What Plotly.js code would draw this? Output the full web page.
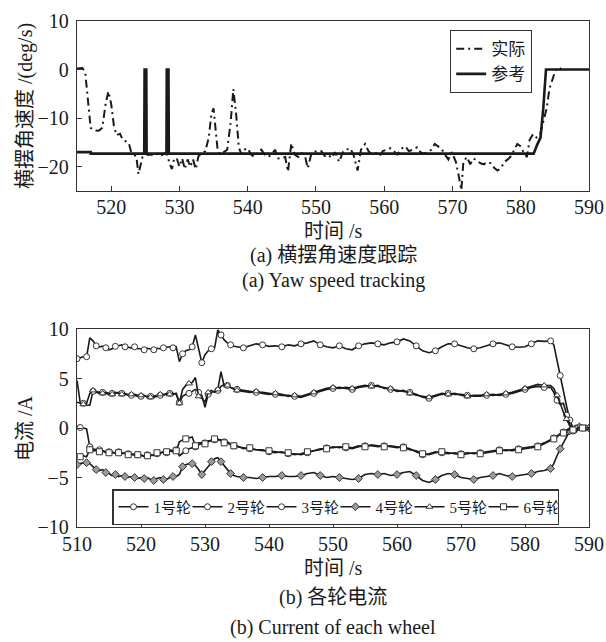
<!DOCTYPE html>
<html>
<head>
<meta charset="utf-8">
<script src="https://cdn.plot.ly/plotly-3.0.1.min.js"></script>
<style>html,body{margin:0;padding:0;background:#fff;}#chart{width:606px;height:642px;}</style>
</head>
<body>
<div id="chart"></div>
<script>
// ---------- (a) yaw speed tracking ----------
const refT = [515, 517, 517.01, 524.85, 524.9, 525.15, 525.2, 528.1, 528.15, 528.4, 528.45, 581.9, 582.4, 582.9, 583.3, 583.7, 590];
const refV = [-17, -17, -17.3, -17.3, 0, 0, -17.3, -17.3, 0, 0, -17.3, -17.3, -15.5, -14, -8, 0, 0];

const actT = [515.0, 515.8, 516.2, 516.6, 517.0, 517.5, 518.2, 518.7, 519.2, 519.6,
  520.0, 520.4, 520.8, 521.3, 521.7, 522.2, 522.6, 522.9, 523.3, 523.7,
  524.0, 524.3, 524.6, 525.0, 525.4, 525.8, 526.3, 526.8, 527.3, 527.8,
  528.2, 528.6, 528.9, 529.2, 529.6, 530.0, 530.4, 530.8, 531.2, 531.6,
  532.0, 532.4, 532.8, 533.3, 533.8, 534.3, 534.7, 535.0, 535.3, 535.6,
  536.0, 536.5, 537.0, 537.5, 537.9, 538.3, 538.7, 539.1, 539.5, 540.0,
  540.5, 541.0, 541.5, 542.0, 542.5, 543.0, 543.5, 544.0, 544.5, 545.0,
  545.5, 545.9, 546.4, 546.9, 547.4, 547.9, 548.4, 548.8, 549.3, 549.8,
  550.3, 550.8, 551.3, 551.8, 552.3, 552.8, 553.4, 554.0, 554.5, 555.0,
  555.5, 556.1, 556.6, 557.2, 557.7, 558.2, 558.8, 559.3, 559.8, 560.4,
  560.9, 561.4, 561.9, 562.5, 563.1, 563.6, 564.2, 564.8, 565.3, 565.8,
  566.4, 566.9, 567.4, 567.9, 568.4, 568.9, 569.4, 569.9, 570.5, 571.0,
  571.3, 571.6, 572.1, 572.6, 573.1, 573.6, 574.1, 574.6, 575.1, 575.6,
  576.1, 576.6, 577.1, 577.6, 578.1, 578.6, 579.1, 579.5, 580.0, 580.5,
  580.9, 581.3, 581.8, 582.3, 582.8, 583.3, 583.8, 584.2, 584.6, 585.0,
  585.5, 586.0];
const actV = [0.2, 0.3, -0.5, -6, -12, -12.5, -12.6, -12, -7, -4.5,
  -7, -11.5, -13.5, -13.2, -14.5, -14.8, -15.2, -16.8, -17.3, -18,
  -21.5, -20, -18, -17.3, -17.6, -17.5, -17.7, -17.3, -17.8, -17.2,
  -17.5, -19.5, -20.5, -18.5, -18.2, -20, -18.3, -20.5, -18.5, -20,
  -18.5, -20.5, -17.8, -17.2, -16.8, -14, -9, -8, -12, -16.5,
  -17.5, -17, -16.5, -11, -4, -9, -16, -17.5, -16.5, -16.2,
  -17.5, -18, -17, -16.5, -17.5, -18, -17.5, -16.5, -18.3, -18.2,
  -18, -21, -15.2, -17.5, -18, -17.2, -17.8, -20.3, -17.5, -16.8,
  -17, -16.8, -17.8, -17.5, -18.2, -17, -19, -16.8, -16.5, -16.2,
  -17.5, -20.8, -16.5, -15.3, -16.8, -17.5, -17.2, -17.8, -16.8, -16.5,
  -16.2, -16.8, -17.5, -16.3, -15.8, -16.8, -16.5, -16, -17, -17.3,
  -17, -16.5, -15.3, -15.8, -16.3, -17.5, -18.5, -17, -19, -22.5,
  -24.8, -19, -18, -19.5, -18.3, -18.8, -19.3, -19.5, -19, -19.3,
  -20.2, -20.8, -20.3, -19, -18.5, -17.8, -16.5, -15.3, -15.8, -17.3,
  -18, -14.5, -13.3, -14, -13.5, -11, -8, -4, -2, -0.5,
  0.5, 0];

const topXTicks = [520, 530, 540, 550, 560, 570, 580, 590];
const topYTicks = [-20, -10, 0, 10];

// ---------- (b) current of each wheel ----------
const wheelT = [510, 510.5, 511, 511.5, 512, 512.5, 513, 513.5, 514, 514.5,
  515, 515.5, 516, 516.5, 517, 517.5, 518, 518.5, 519, 519.5,
  520, 520.5, 521, 521.5, 522, 522.5, 523, 523.5, 524, 524.5,
  525, 525.5, 526, 526.5, 527, 527.5, 528, 528.5, 529, 529.5,
  530, 530.5, 531, 531.5, 532, 532.5, 533, 533.5, 534, 534.5,
  535,
  536, 537, 538, 539, 540, 541, 542, 543, 544, 545,
  546, 547, 548, 549, 550, 551, 552, 553, 554, 555,
  556, 557, 558, 559, 560, 561, 562, 563, 564, 565,
  566, 567, 568, 569, 570, 571, 572, 573, 574, 575,
  576, 577, 578, 579, 580, 581, 582, 583, 584,
  584.5, 585, 585.5, 586, 586.5, 587, 587.5, 588, 588.5, 589, 589.5, 590];

const wheel1 = [7.0, 7.1, 7.2, 7.2, 9.1, 8.8, 8.3, 8.2, 8.25, 8.1,
  7.9, 8.0, 8.25, 8.3, 8.4, 8.2, 8.15, 8.1, 8.2, 8.0,
  8.0, 7.9, 8.05, 7.95, 7.9, 8.05, 8.0, 8.1, 8.15, 8.2,
  8.1, 8.2, 6.7, 7.5, 7.8, 7.9, 8.2, 9.4, 8.0, 6.6,
  7.4, 7.8, 8.0, 8.1, 9.9, 9.4, 8.9, 8.6, 8.4, 8.25,
  8.2,
  8.1, 8.3, 8.5, 8.4, 8.25, 8.3, 8.2, 8.4, 8.3, 8.5,
  8.6, 8.8, 8.4, 8.2, 8.1, 8.3, 8.0, 7.9, 8.3, 8.5,
  8.6, 8.5, 8.4, 8.6, 8.7, 9.0, 8.8, 8.3, 7.8, 7.6,
  7.8, 8.2, 8.5, 8.5, 8.3, 8.1, 8.0, 8.1, 8.3, 8.5,
  8.6, 8.4, 8.2, 8.15, 8.2, 8.5, 8.8, 8.75, 8.8,
  8.4, 6.8, 5.3, 3.8, 2.2, 0.8, 0.0, -0.2, 0.1, 0.0, 0.0, 0.0];

const wheel2 = [4.8, 2.6, 2.5, 2.3, 2.3, 3.7, 3.6, 3.5, 3.6, 3.5,
  3.4, 3.5, 3.5, 3.6, 3.5, 3.4, 3.4, 3.3, 3.4, 3.3,
  3.2, 3.3, 3.1, 3.2, 3.1, 3.2, 3.3, 3.4, 3.4, 3.5,
  3.4, 3.5, 2.6, 3.2, 3.4, 3.5, 3.7, 3.9, 3.6, 3.3,
  2.1, 3.4, 3.6, 3.7, 3.8, 4.2, 4.4, 4.3, 4.1, 4.0,
  3.9,
  3.8, 3.7, 3.6, 3.6, 3.5, 3.4, 3.3, 3.3, 3.2, 3.1,
  3.3, 3.5, 3.7, 3.9, 4.0, 4.1, 4.0, 3.9, 4.1, 4.2,
  4.3, 4.2, 4.1, 3.9, 3.8, 3.7, 3.6, 3.4, 3.1, 3.0,
  3.2, 3.4, 3.5, 3.4, 3.4, 3.3, 3.2, 3.2, 3.3, 3.4,
  3.3, 3.4, 3.5, 3.7, 3.9, 4.1, 4.2, 4.1, 4.1,
  3.6, 2.8, 2.4, 2.5, 1.3, 0.3, 0.0, 0.0, 0.0, 0.0, 0.0, 0.0];

const wheel3 = [0.0, 0.05, 0.0, -0.1, -1.9, -2.1, -2.2, -2.2, -2.3, -2.4,
  -2.4, -2.5, -2.5, -2.4, -2.5, -2.6, -2.6, -2.7, -2.6, -2.7,
  -2.8, -2.8, -2.7, -2.8, -2.7, -2.6, -2.5, -2.4, -2.5, -2.3,
  -2.4, -2.2, -2.8, -2.5, -2.3, -2.1, -2.0, -1.9, -1.7, -1.6,
  -1.5, -1.4, -1.2, -1.2, -1.1, -1.3, -1.4, -1.5, -1.7, -1.8,
  -1.9,
  -2.0, -2.1, -2.2, -2.2, -2.4, -2.5, -2.4, -2.6, -2.6, -2.7,
  -2.5, -2.3, -2.2, -2.0, -2.0, -1.9, -2.0, -2.1, -1.9, -1.8,
  -1.8, -1.9, -1.8, -1.9, -2.0, -1.9, -2.1, -2.4, -2.7, -2.6,
  -2.4, -2.5, -2.6, -2.5, -2.6, -2.5, -2.6, -2.5, -2.4, -2.3,
  -2.2, -2.3, -2.2, -2.1, -2.0, -1.9, -1.8, -1.5, -1.2,
  -1.0, -0.8, -0.6, -0.4, -0.2, 0.0, -0.3, -0.1, 0.1, 0.0, 0.0, 0.0];

const wheel4 = [-3.7, -3.6, -3.5, -3.5, -3.6, -3.9, -4.2, -4.3, -4.2, -4.5,
  -4.6, -4.8, -4.7, -4.9, -4.8, -4.9, -5.0, -4.9, -5.0, -5.1,
  -5.0, -5.1, -5.0, -5.2, -5.3, -5.1, -5.0, -5.2, -5.2, -5.0,
  -4.9, -4.9, -4.7, -3.9, -3.7, -3.6, -3.6, -3.8, -4.2, -4.7,
  -4.3, -3.9, -3.4, -3.1, -3.0, -3.4, -3.9, -4.3, -4.6, -4.8,
  -4.9,
  -5.0, -5.0, -5.1, -5.0, -4.9, -4.9, -4.8, -4.9, -4.9, -4.8,
  -4.6, -4.5, -4.8, -5.0, -4.9, -5.0, -5.1, -5.2, -5.1, -4.7,
  -4.6, -4.7, -4.6, -4.8, -4.7, -4.5, -4.4, -4.8, -5.3, -5.5,
  -5.2, -4.8, -4.6, -4.7, -5.0, -5.1, -5.2, -5.0, -4.9, -4.8,
  -4.6, -4.8, -4.9, -4.8, -4.7, -4.6, -4.4, -4.3, -4.1,
  -3.6, -2.8, -2.1, -1.5, -0.9, -0.3, -0.2, -0.4, 0.1, 0.0, 0.0, 0.0];

const wheel5 = [2.6, 2.5, 2.4, 2.5, 3.5, 3.8, 3.7, 3.6, 3.5, 3.6,
  3.5, 3.4, 3.6, 3.5, 3.4, 3.5, 3.3, 3.4, 3.3, 3.2,
  3.3, 3.2, 3.2, 3.1, 3.2, 3.3, 3.4, 3.3, 3.5, 3.4,
  3.5, 3.4, 2.5, 3.9, 4.3, 4.5, 4.6, 5.1, 3.2, 3.0,
  2.6, 3.6, 3.8, 3.6, 3.9, 5.7, 4.2, 4.3, 4.1, 3.9,
  3.8,
  3.7, 3.6, 3.7, 3.5, 3.4, 3.5, 3.4, 3.2, 3.3, 3.2,
  3.4, 3.6, 3.8, 4.0, 4.1, 4.0, 4.1, 4.0, 4.2, 4.3,
  4.2, 4.3, 4.0, 4.0, 3.7, 3.8, 3.5, 3.3, 3.2, 3.1,
  3.3, 3.5, 3.4, 3.5, 3.3, 3.2, 3.3, 3.3, 3.4, 3.3,
  3.4, 3.5, 3.6, 3.8, 4.0, 4.2, 4.4, 4.3, 4.3,
  4.0, 3.3, 2.5, 1.6, 0.9, 0.2, 0.0, 0.0, 0.0, 0.0, 0.0, 0.0];

const wheel6 = [-2.9, -2.9, -2.8, -2.9, -2.2, -2.3, -2.3, -2.4, -2.3, -2.5,
  -2.5, -2.4, -2.6, -2.5, -2.6, -2.5, -2.7, -2.6, -2.8, -2.7,
  -2.7, -2.9, -2.8, -2.7, -2.8, -2.5, -2.6, -2.4, -2.4, -2.2,
  -2.3, -2.3, -1.4, -1.2, -1.1, -1.0, -0.9, -1.8, -1.5, -1.5,
  -1.6, -1.3, -1.3, -1.1, -1.2, -1.2, -1.5, -1.4, -1.6, -1.8,
  -1.8,
  -2.1, -2.0, -2.2, -2.3, -2.3, -2.4, -2.5, -2.5, -2.7, -2.6,
  -2.4, -2.3, -2.1, -2.1, -1.9, -2.0, -1.9, -2.0, -1.8, -1.9,
  -1.7, -1.8, -1.9, -1.8, -1.9, -2.0, -2.2, -2.3, -2.6, -2.7,
  -2.5, -2.4, -2.5, -2.6, -2.7, -2.6, -2.5, -2.6, -2.5, -2.4,
  -2.3, -2.2, -2.3, -2.2, -2.1, -2.0, -1.9, -1.6, -1.3,
  -1.1, -0.9, -0.6, -0.5, -0.3, -0.1, -0.2, -0.1, 0.05, 0.0, 0.0, 0.0];

const wheelNames = ['1号轮', '2号轮', '3号轮', '4号轮', '5号轮', '6号轮'];
const wheelSeries = [wheel1, wheel2, wheel3, wheel4, wheel5, wheel6];
const wheelSymbols = ['circle', 'circle', 'circle', 'diamond', 'triangle-up', 'square'];
const wheelMarkerFill = ['#ffffff', '#ffffff', '#ffffff', '#9a9a9a', '#ffffff', '#ffffff'];

const botXTicks = [510, 520, 530, 540, 550, 560, 570, 580, 590];
const botYTicks = [-10, -5, 0, 5, 10];

// ---------- layout helpers ----------
const W = 606, H = 642;
const FONT = 'Liberation Serif, Noto Sans CJK SC, serif';
const INK = '#1a1a1a';
const px = v => v / W;
const py = v => 1 - v / H;

const traces = [
  {x: actT, y: actV, name: '实际', type: 'scatter', mode: 'lines', xaxis: 'x', yaxis: 'y',
   line: {color: INK, width: 2, dash: '8px,4px,2px,4px'}, legend: 'legend'},
  {x: refT, y: refV, name: '参考', type: 'scatter', mode: 'lines', xaxis: 'x', yaxis: 'y',
   line: {color: INK, width: 2.6}, legend: 'legend'}
];
wheelSeries.forEach((s, i) => {
  traces.push({
    x: wheelT, y: s, name: wheelNames[i], type: 'scatter', mode: 'lines+markers',
    xaxis: 'x2', yaxis: 'y2', legend: 'legend2',
    line: {color: INK, width: 1.6},
    marker: {symbol: wheelSymbols[i], size: 6, color: wheelMarkerFill[i],
             line: {color: '#333', width: 1}, maxdisplayed: 38}
  });
});

const axisCommon = {
  showline: true, mirror: true, linecolor: '#333', linewidth: 1.2,
  ticks: 'inside', ticklen: 5, tickcolor: '#333', tickwidth: 1,
  showgrid: false, zeroline: false, fixedrange: true,
  tickfont: {family: FONT, size: 20, color: INK}
};

const xDom = [px(77), px(589)];

function label(text, x, y, angle) {
  return {text: text, x: px(x), y: py(y), xref: 'paper', yref: 'paper',
          xanchor: 'center', yanchor: 'middle', textangle: angle || 0,
          showarrow: false, font: {family: FONT, size: 20, color: INK}};
}

const layout = {
  width: W, height: H,
  margin: {l: 0, r: 0, t: 0, b: 0, autoexpand: false},
  paper_bgcolor: '#fff', plot_bgcolor: '#fff',
  font: {family: FONT, size: 20, color: INK},
  showlegend: true,
  xaxis: Object.assign({}, axisCommon, {domain: xDom, range: [515, 590], tickvals: topXTicks, anchor: 'y', ticklabelstandoff: -2}),
  yaxis: Object.assign({}, axisCommon, {domain: [py(191), py(21)], range: [-25, 10], tickvals: topYTicks, anchor: 'x', ticklabelstandoff: 3}),
  xaxis2: Object.assign({}, axisCommon, {domain: xDom, range: [510, 590], tickvals: botXTicks, anchor: 'y2', ticklabelstandoff: -1}),
  yaxis2: Object.assign({}, axisCommon, {domain: [py(527), py(329)], range: [-10, 10], tickvals: botYTicks, anchor: 'x2', ticklabelstandoff: 3}),
  legend: {
    x: px(450), y: py(30), xanchor: 'left', yanchor: 'top',
    bgcolor: '#fff', bordercolor: '#333', borderwidth: 1.2,
    font: {family: FONT, size: 17, color: INK}, tracegroupgap: 0, itemwidth: 30
  },
  legend2: {
    x: px(112), y: py(489), xanchor: 'left', yanchor: 'top', orientation: 'h',
    bgcolor: '#fff', bordercolor: '#333', borderwidth: 1.5,
    font: {family: FONT, size: 15, color: INK}, entrywidth: 29, entrywidthmode: 'pixels', itemwidth: 30
  },
  annotations: [
    label('横摆角速度 /(deg/s)', 25, 106, -90),
    label('时间 /s', 333, 231),
    label('(a) 横摆角速度跟踪', 333, 255),
    label('(a) Yaw speed tracking', 333, 280),
    label('电流 /A', 25, 428, -90),
    label('时间 /s', 333, 568),
    label('(b) 各轮电流', 333, 597),
    label('(b) Current of each wheel', 333, 627)
  ]
};

Plotly.newPlot('chart', traces, layout, {staticPlot: true, displayModeBar: false});
</script>
</body>
</html>
